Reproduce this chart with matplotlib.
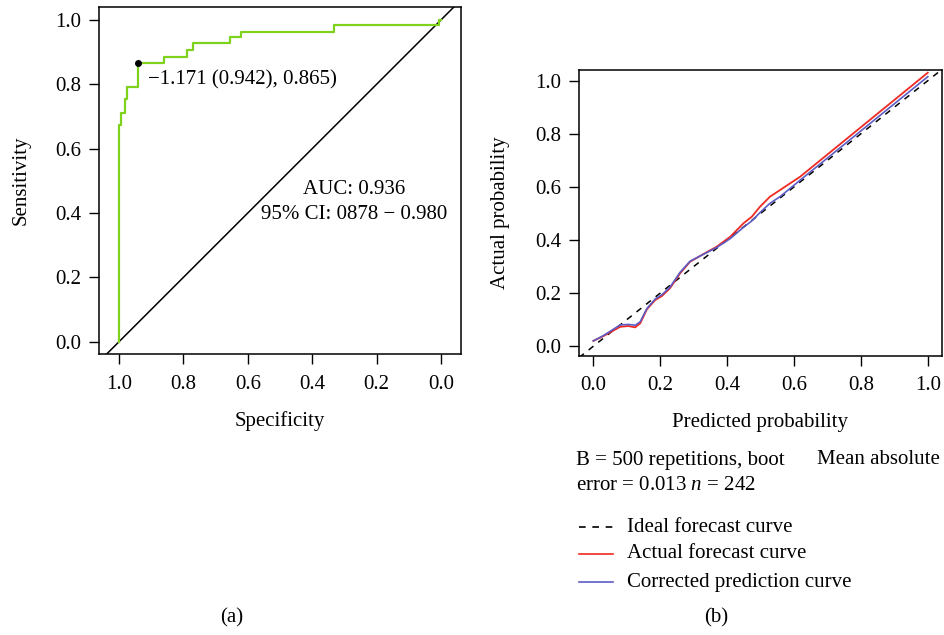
import matplotlib
matplotlib.use("Agg")
import matplotlib.pyplot as plt
from matplotlib.lines import Line2D

plt.rcParams['font.family'] = ['Liberation Serif', 'DejaVu Serif']
plt.rcParams['mathtext.fontset'] = 'custom'
plt.rcParams['mathtext.it'] = 'Liberation Serif:italic'
plt.rcParams['mathtext.rm'] = 'Liberation Serif'

# ROC curve (specificity, sensitivity), step points
roc_spec = [1.0, 1.0, 0.995, 0.995, 0.980, 0.980, 0.974, 0.974, 0.942, 0.942,
            0.860, 0.860, 0.788, 0.788, 0.769, 0.769, 0.655, 0.655, 0.620, 0.620,
            0.333, 0.333, 0.006, 0.006, 0.0]
roc_sens = [0.0, 0.674, 0.674, 0.712, 0.712, 0.753, 0.753, 0.790, 0.790, 0.865,
            0.865, 0.886, 0.886, 0.906, 0.906, 0.927, 0.927, 0.946, 0.946, 0.963,
            0.963, 0.983, 0.983, 1.0, 1.0]
best_spec, best_sens = 0.942, 0.865
best_label = "\u22121.171 (0.942), 0.865)"
auc_text = "AUC: 0.936\n95% CI: 0878 \u2212 0.980"

# calibration curves
cal_x = [0.0, 0.03, 0.08, 0.104, 0.125, 0.14, 0.16, 0.185, 0.205, 0.229, 0.259,
         0.289, 0.329, 0.369, 0.409, 0.449, 0.474, 0.498, 0.528, 0.558, 0.618, 1.0]
actual_y = [0.02, 0.038, 0.073, 0.076, 0.071, 0.086, 0.139, 0.174, 0.189, 0.218, 0.274,
            0.318, 0.347, 0.375, 0.412, 0.463, 0.488, 0.525, 0.563, 0.588, 0.638, 1.03]
corrected_y = [0.02, 0.04, 0.08, 0.082, 0.079, 0.092, 0.142, 0.178, 0.194, 0.222, 0.278,
               0.320, 0.346, 0.372, 0.405, 0.448, 0.472, 0.503, 0.538, 0.563, 0.625, 1.015]
ticks = [0.0, 0.2, 0.4, 0.6, 0.8, 1.0]
legend_labels = ["Ideal forecast curve", "Actual forecast curve", "Corrected prediction curve"]

W, H = 944, 635
FS = 15


def fx(px):
    return px / W


def fy(py):
    return 1 - py / H


fig = plt.figure(figsize=(W / 100, H / 100), dpi=100)

# ---- (a) ROC
ax1 = fig.add_axes([fx(99), fy(354), fx(461) - fx(99), fy(7.3) - fy(354)])
ax1.plot([1.1, -0.1], [-0.1, 1.1], color='black', lw=1.1)
ax1.plot(roc_spec, roc_sens, color='#7fd21c', lw=1.6)
ax1.plot(best_spec, best_sens, 'o', color='black', ms=4)
ax1.text(0.91, 0.815, best_label, fontsize=FS, va='center', ha='left')
ax1.text(0.27, 0.435, auc_text, fontsize=FS, va='center', ha='center', linespacing=1.45)
ax1.set_xlim(1.062, -0.062)
ax1.set_ylim(-0.038, 1.039)
ax1.set_xticks(ticks)
ax1.set_yticks(ticks)
ax1.set_xticklabels([f"{t:.1f}" for t in ticks])
ax1.set_yticklabels([f"{t:.1f}" for t in ticks])
ax1.tick_params(direction='out', length=7, width=1, labelsize=FS)
ax1.tick_params(axis='x', pad=8)
ax1.tick_params(axis='y', pad=6)

# ---- (b) calibration
ax2 = fig.add_axes([fx(579), fy(355.5), fx(941.5) - fx(579), fy(69.5) - fy(355.5)])
ax2.plot([-0.1, 1.1], [-0.1, 1.1], color='black', lw=1.1, ls=(0, (4, 4)))
ax2.plot(cal_x, actual_y, color='#ee2a22', lw=1.3)
ax2.plot(cal_x, corrected_y, color='#5c5cc4', lw=1.2)
ax2.set_xlim(-0.043, 1.041)
ax2.set_ylim(-0.035, 1.042)
ax2.set_xticks(ticks)
ax2.set_yticks(ticks)
ax2.set_xticklabels([f"{t:.1f}" for t in ticks])
ax2.set_yticklabels([f"{t:.1f}" for t in ticks])
ax2.tick_params(direction='out', length=7, width=1, labelsize=FS)
ax2.tick_params(axis='x', pad=8)
ax2.tick_params(axis='y', pad=6)

for ax in (ax1, ax2):
    for s in ax.spines.values():
        s.set_linewidth(1.1)

# axis titles and notes
fig.text(fx(21), fy(180), "Sensitivity", rotation=90, ha='center', va='center', fontsize=FS)
fig.text(fx(280), fy(421), "Specificity", ha='center', va='center', fontsize=FS)
fig.text(fx(501), fy(213), "Actual probability", rotation=90, ha='center', va='center', fontsize=FS)
fig.text(fx(760), fy(423), "Predicted probability", ha='center', va='center', fontsize=FS)
fig.text(fx(576), fy(460), "B = 500 repetitions, boot", ha='left', va='center', fontsize=FS)
fig.text(fx(940), fy(460), "Mean absolute", ha='right', va='center', fontsize=FS)
fig.text(fx(576), fy(486), "error = 0.013 $n$ = 242", ha='left', va='center', fontsize=FS)

styles = [dict(color='black', ls=(0, (4, 4))), dict(color='#ee2a22', ls='-'), dict(color='#5c5cc4', ls='-')]
rows = [527, 554, 582]
for lab, st, r in zip(legend_labels, styles, rows):
    fig.add_artist(Line2D([fx(579), fx(613)], [fy(r), fy(r)], transform=fig.transFigure, lw=1.2, **st))
    fig.text(fx(627), fy(r), lab, ha='left', va='center', fontsize=FS)

fig.text(fx(232), fy(618), "(a)", ha='center', va='center', fontsize=FS)
fig.text(fx(716), fy(618), "(b)", ha='center', va='center', fontsize=FS)

fig.savefig('out.png', dpi=100)
